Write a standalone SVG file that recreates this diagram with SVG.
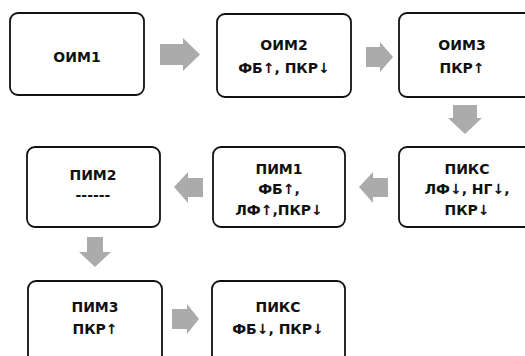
<svg xmlns="http://www.w3.org/2000/svg" width="525" height="356" viewBox="0 0 525 356">
<style>
.box{fill:#fff;stroke:#111;stroke-width:1.8}
.t{font-family:"DejaVu Sans","Noto Sans",sans-serif;font-weight:bold;font-size:14px;fill:#111;text-anchor:middle}
.arr{fill:#ababab}
</style>
<rect width="525" height="356" fill="#fff"/>
<g id="connectors">
<polygon class="arr" points="160,44 183,44 183,38 200,54.5 183,71 183,65 160,65"/>
<polygon class="arr" points="366,47 380,47 380,42 393,57 380,72 380,67 366,67"/>
<polygon class="arr" points="453,105 477,105 477,118 482,118 465,134 448,118 453,118"/>
<polygon class="arr" points="388,178 373,178 373,172 359,187 373,203 373,197 388,197"/>
<polygon class="arr" points="203,178 188,178 188,172 174,187 188,203 188,197 203,197"/>
<polygon class="arr" points="87,237 103,237 103,252 111,252 95,267 79,252 87,252"/>
<polygon class="arr" points="172,309 187,309 187,304 199,319 187,334 187,329 172,329"/>
</g>
<g id="oim1"><rect class="box" x="10" y="13" width="134" height="82" rx="8"/><text class="t" x="77" y="62">ОИМ1</text></g>
<g id="oim2"><rect class="box" x="217" y="14" width="134" height="83" rx="8"/><text class="t" x="284" y="50">ОИМ2</text><text class="t" x="284" y="73">ФБ↑, ПКР↓</text></g>
<g id="oim3"><rect class="box" x="399" y="13" width="134" height="84" rx="8"/><text class="t" x="462" y="50">ОИМ3</text><text class="t" x="462" y="73">ПКР↑</text></g>
<g id="piks1"><rect class="box" x="399" y="147" width="134" height="80" rx="8"/><text class="t" x="467" y="174">ПИКС</text><text class="t" x="467" y="194">ЛФ↓, НГ↓,</text><text class="t" x="467" y="215">ПКР↓</text></g>
<g id="pim1"><rect class="box" x="213" y="147" width="132" height="80" rx="8"/><text class="t" x="279" y="174">ПИМ1</text><text class="t" x="279" y="194">ФБ↑,</text><text class="t" x="279" y="215">ЛФ↑,ПКР↓</text></g>
<g id="pim2"><rect class="box" x="27" y="147" width="133" height="80" rx="8"/><text class="t" x="93" y="180">ПИМ2</text><text class="t" x="93" y="200">------</text></g>
<g id="pim3"><rect class="box" x="28" y="281" width="134" height="82" rx="8"/><text class="t" x="95" y="312">ПИМ3</text><text class="t" x="95" y="334">ПКР↑</text></g>
<g id="piks2"><rect class="box" x="212" y="281" width="133" height="82" rx="8"/><text class="t" x="278" y="312">ПИКС</text><text class="t" x="278" y="334">ФБ↓, ПКР↓</text></g>
</svg>
